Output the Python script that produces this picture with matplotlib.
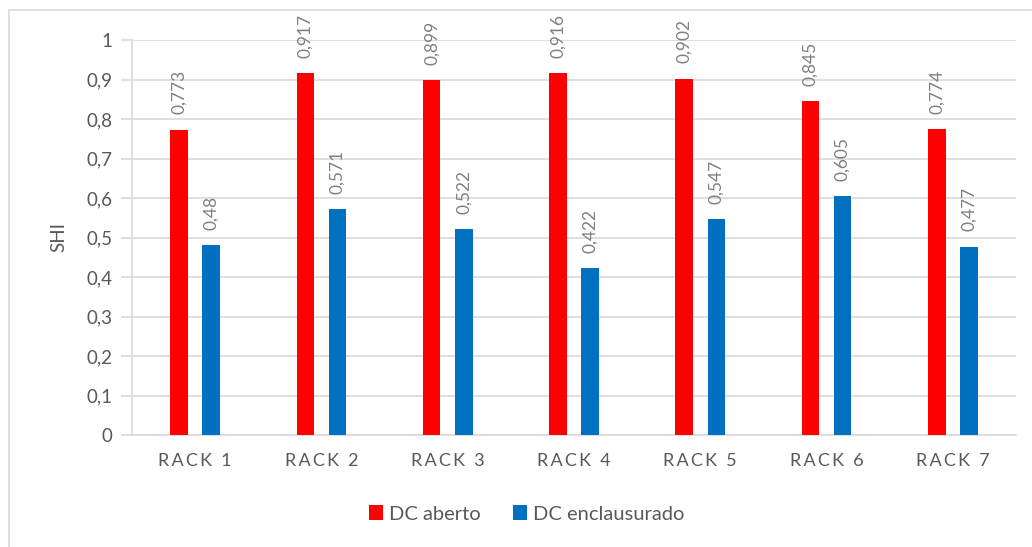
import matplotlib
matplotlib.use("Agg")
import matplotlib.pyplot as plt
from matplotlib.patches import Rectangle
import numpy as np

categories = ["RACK 1", "RACK 2", "RACK 3", "RACK 4", "RACK 5", "RACK 6", "RACK 7"]
dc_aberto = [0.773, 0.917, 0.899, 0.916, 0.902, 0.845, 0.774]
dc_enclausurado = [0.48, 0.571, 0.522, 0.422, 0.547, 0.605, 0.477]
series_names = ["DC aberto", "DC enclausurado"]
y_ticks = [0, 0.1, 0.2, 0.3, 0.4, 0.5, 0.6, 0.7, 0.8, 0.9, 1.0]

RED = "#FF0000"
BLUE = "#0070C0"
GRID = "#D9D9D9"
TEXT = "#595959"

plt.rcParams["font.family"] = ["Lato", "DejaVu Sans"]

W, H = 1032, 547
fig = plt.figure(figsize=(W / 100, H / 100), dpi=100)
ax = fig.add_axes([132 / W, 1 - 435 / H, (1016 - 132) / W, (435 - 40) / H])

# outer chart frame
fig.patches.append(Rectangle((9 / W, -0.05), 1.2, 1 - 10 / H + 0.05,
                             transform=fig.transFigure, fill=False,
                             edgecolor=GRID, linewidth=1.2))

x = np.arange(len(categories))
off = 0.127
bw = 0.139
b1 = ax.bar(x - off, dc_aberto, bw, color=RED, label=series_names[0], zorder=3)
b2 = ax.bar(x + off, dc_enclausurado, bw, color=BLUE, label=series_names[1], zorder=3)

def fmt(v):
    return f"{v:g}".replace(".", ",")

for bars, vals in ((b1, dc_aberto), (b2, dc_enclausurado)):
    for rect, v in zip(bars, vals):
        ax.annotate(fmt(v), (rect.get_x() + rect.get_width() / 2, v),
                    xytext=(0, 11), textcoords="offset points",
                    ha="center", va="bottom", rotation=90,
                    fontsize=12.5, color="#808080")

def spaced(label):
    # widen letter spacing with thin spaces
    word, num = label.split(" ")
    return "\u2009".join(word) + "\u2009\u2009 " + num

ax.set_xlim(-0.5, len(categories) - 0.5)
ax.set_ylim(0, 1)
ax.set_yticks(y_ticks)
ax.set_yticklabels([fmt(t) for t in y_ticks], fontsize=13.5, color=TEXT)
ax.set_xticks(x)
ax.set_xticklabels([spaced(c) for c in categories], fontsize=13, color=TEXT)
ax.tick_params(axis="x", length=0, pad=13)
ax.tick_params(axis="y", length=8, width=1.2, color=GRID, pad=6)
ax.yaxis.grid(True, color=GRID, linewidth=1.2, zorder=0)
ax.set_axisbelow(True)
for s in ("top", "right"):
    ax.spines[s].set_visible(False)
for s in ("left", "bottom"):
    ax.spines[s].set_color(GRID)
    ax.spines[s].set_linewidth(1.2)

ax.set_ylabel("SHI", fontsize=13.5, color=TEXT, labelpad=14)

leg = fig.legend(handles=[b1, b2], labels=series_names, loc="center",
                 bbox_to_anchor=(527 / W, 1 - 514 / H), ncol=2, frameon=False,
                 fontsize=14.5, handlelength=0.7, handleheight=0.7,
                 handletextpad=0.3, columnspacing=1.6)
for t in leg.get_texts():
    t.set_color(TEXT)

fig.savefig("out.png", dpi=100)
